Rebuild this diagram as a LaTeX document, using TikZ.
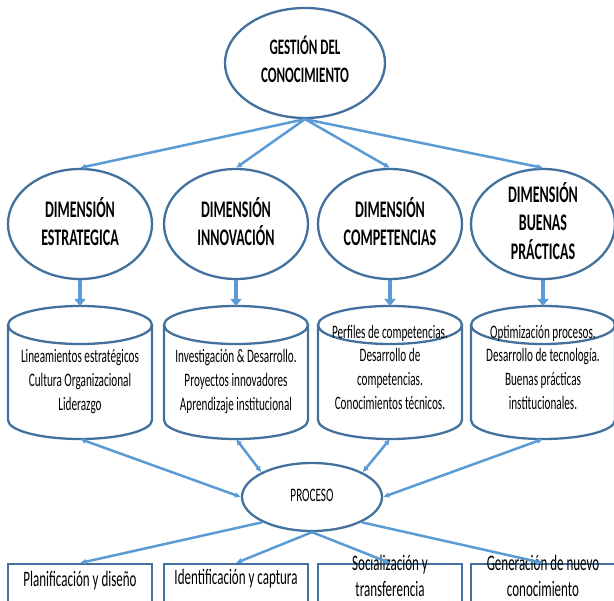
\documentclass[tikz,border=0pt]{standalone}
\usepackage{fontspec}
\setmainfont{Carlito}
\usepackage{graphicx}
\usetikzlibrary{shapes.geometric,arrows.meta}
\definecolor{bord}{HTML}{41719C}
\definecolor{arr}{HTML}{5B9BD5}
\newcommand\stx[1]{\scalebox{1}[1.7]{\begin{tabular}{@{}c@{}}#1\end{tabular}}}
\begin{document}
\begin{tikzpicture}[x=1pt,y=1pt,
 shp/.style={draw=bord, line width=2.3pt},
 ell/.style={shp, ellipse, inner sep=0pt},
 conn/.style={draw=arr, line width=2.5pt, -{Latex[length=6pt,width=6pt]}},
 bidi/.style={draw=arr, line width=2.5pt, {Latex[length=6pt,width=6pt]}-{Latex[length=6pt,width=6pt]}},
 fatarrow/.style={draw=arr, line width=4pt, -{Triangle[length=7pt,width=11pt]}},
 dimtext/.style={font=\bfseries\fontsize{14}{16.5}\selectfont},
 toptext/.style={font=\bfseries\fontsize{13}{16}\selectfont},
 cyltext/.style={font=\fontsize{11.2}{14}\selectfont},
 boxtext/.style={font=\fontsize{13}{14.9}\selectfont},
]
\useasboundingbox (0,0) rectangle (614,-601);
\clip (0,0) rectangle (614,-601);

% top
\node[ell, minimum width=160pt, minimum height=110pt] (top) at (305,-63) {};
\node[toptext] (toptx) at (top) {\stx{GESTIÓN DEL\\CONOCIMIENTO}};

% dimensions
\node[ell, minimum width=144pt, minimum height=110pt] (d1) at (80,-224) {};
\node[ell, minimum width=144pt, minimum height=110pt] (d2) at (236,-224) {};
\node[ell, minimum width=144pt, minimum height=110pt] (d3) at (390,-224) {};
\node[ell, minimum width=144pt, minimum height=110pt] (d4) at (543,-224) {};
\node[dimtext] (d1x) at (80,-226) {\stx{DIMENSIÓN\\ESTRATEGICA}};
\node[dimtext] (d2x) at (236,-226) {\stx{DIMENSIÓN\\INNOVACIÓN}};
\node[dimtext] (d3x) at (390,-226) {\stx{DIMENSIÓN\\COMPETENCIAS}};
\node[dimtext] (d4x) at (543,-225) {\stx{DIMENSIÓN\\BUENAS\\PRÁCTICAS}};

\foreach \t in {d1,d2,d3,d4} \draw[conn] (top.south) -- (\t.north);

% cylinders
\foreach \cx/\nm in {80/c1,236/c2,390/c3,543/c4} {
  \draw[shp] (\cx-72,-325) -- (\cx-72,-420) arc[start angle=180, end angle=360, x radius=72pt, y radius=19pt] -- (\cx+72,-325);
  \draw[shp] (\cx,-325) ellipse[x radius=72pt, y radius=19pt];
  \coordinate (\nm t) at (\cx,-306);
  \coordinate (\nm b) at (\cx,-439);
}
\node[cyltext] (c1x) at (80,-382) {\stx{Lineamientos estratégicos\\Cultura Organizacional\\Liderazgo}};
\node[cyltext] (c2x) at (236,-382) {\stx{Investigación \& Desarrollo.\\Proyectos innovadores\\Aprendizaje institucional}};
\node[cyltext] (c3x) at (390,-369) {\stx{Perfiles de competencias.\\Desarrollo de\\competencias.\\Conocimientos técnicos.}};
\node[cyltext] (c4x) at (543,-369) {\stx{Optimización procesos.\\Desarrollo de tecnología.\\Buenas prácticas\\institucionales.}};

\draw[fatarrow] (d1.south) -- (c1t);
\draw[fatarrow] (d2.south) -- (c2t);
\draw[fatarrow] (d3.south) -- (c3t);
\draw[fatarrow] (d4.south) -- (c4t);

% proceso
\node[ell, minimum width=140pt, minimum height=68pt] (proc) at (312,-497) {};
\node[cyltext] (procx) at (proc) {\stx{PROCESO}};

\draw[bidi] (c1b) -- (proc.west);
\draw[bidi] (c2b) -- (proc.154);
\draw[bidi] (c3b) -- (proc.26);
\draw[bidi] (c4b) -- (proc.east);

% boxes
\node[shp, rectangle, minimum width=144pt, minimum height=60pt, anchor=north] (b1) at (80,-563) {};
\node[shp, rectangle, minimum width=144pt, minimum height=60pt, anchor=north] (b2) at (236,-563) {};
\node[shp, rectangle, minimum width=144pt, minimum height=60pt, anchor=north] (b3) at (390,-563) {};
\node[shp, rectangle, minimum width=144pt, minimum height=60pt, anchor=north] (b4) at (543,-563) {};
\node[boxtext] (b1x) at (80,-581) {\stx{Planificación y diseño}};
\node[boxtext] (b2x) at (236,-579) {\stx{Identificación y captura}};
\node[boxtext] (b3x) at (390,-578.5) {\stx{Socialización y\\transferencia}};
\node[boxtext] (b4x) at (543,-578.5) {\stx{Generación de nuevo\\conocimiento}};

\draw[conn] (proc.207) -- (b1.north);
\draw[conn] (proc.south) -- (b2.north);
\draw[conn] (proc.south) -- (b3.north);
\draw[conn] (proc.-27) -- (b4.north);
\end{tikzpicture}
\end{document}
